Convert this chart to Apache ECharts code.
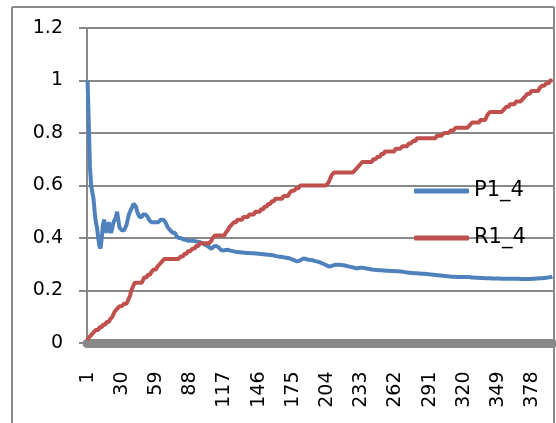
<!DOCTYPE html>
<html><head><meta charset="utf-8">
<script src="https://cdn.jsdelivr.net/npm/echarts@6/dist/echarts.min.js"></script>
<style>html,body{margin:0;padding:0;background:#fff}#c{width:556px;height:423px}</style>
</head><body><div id="c"></div>
<script>
// categories 1..395 (rank positions)
const categories = Array.from({length: 395}, (_, i) => String(i + 1));
const yTicks = [0, 0.2, 0.4, 0.6, 0.8, 1, 1.2];
const seriesNames = ['P1_4', 'R1_4'];

const P1_4 = [
1.00,1.00,0.67,0.60,0.60,0.55,0.50,0.46,0.44,0.40,
0.37,0.36,0.40,0.45,0.47,0.44,0.42,0.44,0.46,0.43,
0.42,0.44,0.46,0.46,0.48,0.50,0.47,0.44,0.44,0.43,
0.43,0.43,0.44,0.45,0.47,0.49,0.50,0.51,0.52,0.53,
0.535,0.52,0.50,0.49,0.48,0.48,0.48,0.49,0.49,0.49,
0.49,0.48,0.47,0.47,0.46,0.46,0.46,0.46,0.46,0.46,
0.46,0.46,0.47,0.47,0.47,0.47,0.46,0.45,0.44,0.44,
0.43,0.43,0.42,0.42,0.42,0.41,0.41,0.40,0.40,0.40,
0.395,0.395,0.395,0.393,0.393,0.39,0.39,0.39,0.39,0.39,
0.39,0.388,0.388,0.386,0.385,0.385,0.383,0.38,0.378,0.376,
0.375,0.372,0.368,0.365,0.36,0.358,0.362,0.368,0.37,0.37,
0.368,0.364,0.358,0.355,0.353,0.352,0.352,0.354,0.355,0.355,
0.354,0.352,0.352,0.35,0.349,0.348,0.347,0.347,0.346,0.346,
0.345,0.345,0.345,0.344,0.344,0.343,0.343,0.343,0.343,0.342,
0.342,0.342,0.341,0.341,0.340,0.340,0.340,0.339,0.339,0.338,
0.338,0.337,0.337,0.336,0.336,0.335,0.335,0.334,0.333,0.332,
0.331,0.330,0.330,0.329,0.328,0.328,0.327,0.326,0.326,0.325,
0.324,0.323,0.321,0.319,0.318,0.316,0.313,0.311,0.310,0.312,
0.314,0.317,0.320,0.322,0.321,0.320,0.318,0.317,0.316,0.316,
0.315,0.315,0.314,0.312,0.311,0.310,0.308,0.307,0.305,0.303,
0.301,0.299,0.297,0.295,0.293,0.291,0.292,0.294,0.296,0.297,
0.298,0.298,0.298,0.298,0.297,0.297,0.296,0.296,0.295,0.294,
0.293,0.292,0.291,0.290,0.289,0.288,0.287,0.285,0.284,0.285,
0.286,0.287,0.288,0.287,0.286,0.285,0.285,0.284,0.283,0.282,
0.281,0.280,0.280,0.279,0.279,0.278,0.278,0.277,0.277,0.277,
0.276,0.276,0.276,0.275,0.275,0.275,0.275,0.274,0.274,0.274,
0.274,0.273,0.273,0.273,0.272,0.272,0.271,0.271,0.270,0.270,
0.269,0.269,0.268,0.268,0.268,0.267,0.267,0.266,0.266,0.266,
0.265,0.265,0.265,0.264,0.264,0.264,0.263,0.263,0.262,0.262,
0.262,0.261,0.261,0.260,0.260,0.259,0.259,0.258,0.258,0.257,
0.257,0.256,0.256,0.255,0.255,0.254,0.253,0.253,0.253,0.252,
0.252,0.252,0.252,0.251,0.251,0.251,0.251,0.251,0.251,0.251,
0.251,0.251,0.251,0.251,0.250,0.250,0.250,0.250,0.250,0.249,
0.249,0.249,0.249,0.248,0.248,0.248,0.248,0.247,0.247,0.247,
0.247,0.247,0.247,0.246,0.246,0.246,0.246,0.246,0.246,0.246,
0.246,0.245,0.245,0.245,0.245,0.245,0.245,0.245,0.245,0.245,
0.245,0.245,0.245,0.245,0.245,0.245,0.244,0.244,0.244,0.244,
0.244,0.244,0.244,0.244,0.244,0.244,0.245,0.245,0.245,0.245,
0.246,0.246,0.246,0.247,0.247,0.247,0.248,0.248,0.249,0.249,
0.250,0.250,0.251,0.251,0.252
];

const R1_4 = [
0.01,0.02,0.02,0.03,0.03,0.04,0.04,0.05,0.05,0.05,
0.06,0.06,0.06,0.07,0.07,0.07,0.08,0.08,0.08,0.09,
0.09,0.10,0.11,0.12,0.12,0.13,0.13,0.14,0.14,0.14,
0.14,0.15,0.15,0.15,0.16,0.17,0.18,0.20,0.21,0.22,
0.23,0.23,0.23,0.23,0.23,0.23,0.23,0.24,0.25,0.25,
0.25,0.26,0.26,0.26,0.27,0.27,0.28,0.28,0.28,0.29,
0.29,0.30,0.30,0.31,0.31,0.32,0.32,0.32,0.32,0.32,
0.32,0.32,0.32,0.32,0.32,0.32,0.32,0.32,0.32,0.33,
0.33,0.33,0.34,0.34,0.34,0.35,0.35,0.35,0.35,0.36,
0.36,0.36,0.37,0.37,0.37,0.38,0.38,0.38,0.38,0.38,
0.38,0.38,0.38,0.38,0.38,0.39,0.40,0.40,0.41,0.41,
0.41,0.41,0.41,0.41,0.41,0.41,0.41,0.42,0.42,0.43,
0.44,0.44,0.45,0.45,0.46,0.46,0.46,0.47,0.47,0.47,
0.47,0.47,0.48,0.48,0.48,0.48,0.48,0.49,0.49,0.49,
0.49,0.49,0.50,0.50,0.50,0.50,0.50,0.51,0.51,0.51,
0.52,0.52,0.52,0.53,0.53,0.53,0.54,0.54,0.54,0.55,
0.55,0.55,0.55,0.55,0.55,0.55,0.56,0.56,0.56,0.56,
0.56,0.57,0.57,0.58,0.58,0.58,0.58,0.59,0.59,0.59,
0.60,0.60,0.60,0.60,0.60,0.60,0.60,0.60,0.60,0.60,
0.60,0.60,0.60,0.60,0.60,0.60,0.60,0.60,0.60,0.60,
0.60,0.60,0.60,0.60,0.61,0.62,0.63,0.64,0.64,0.65,
0.65,0.65,0.65,0.65,0.65,0.65,0.65,0.65,0.65,0.65,
0.65,0.65,0.65,0.65,0.65,0.65,0.65,0.66,0.66,0.67,
0.67,0.68,0.68,0.69,0.69,0.69,0.69,0.69,0.69,0.69,
0.69,0.69,0.70,0.70,0.70,0.70,0.71,0.71,0.71,0.72,
0.72,0.72,0.73,0.73,0.73,0.73,0.73,0.73,0.73,0.73,
0.73,0.74,0.74,0.74,0.74,0.74,0.74,0.75,0.75,0.75,
0.75,0.75,0.76,0.76,0.76,0.76,0.77,0.77,0.77,0.78,
0.78,0.78,0.78,0.78,0.78,0.78,0.78,0.78,0.78,0.78,
0.78,0.78,0.78,0.78,0.78,0.78,0.79,0.79,0.79,0.79,
0.79,0.79,0.80,0.80,0.80,0.80,0.80,0.80,0.81,0.81,
0.81,0.81,0.82,0.82,0.82,0.82,0.82,0.82,0.82,0.82,
0.82,0.82,0.82,0.82,0.83,0.83,0.84,0.84,0.84,0.84,
0.84,0.84,0.84,0.85,0.85,0.85,0.85,0.85,0.86,0.87,
0.87,0.88,0.88,0.88,0.88,0.88,0.88,0.88,0.88,0.88,
0.88,0.88,0.88,0.89,0.89,0.90,0.90,0.90,0.91,0.91,
0.91,0.91,0.91,0.92,0.92,0.92,0.92,0.92,0.92,0.93,
0.93,0.94,0.94,0.95,0.95,0.95,0.96,0.96,0.96,0.96,
0.96,0.96,0.96,0.97,0.97,0.98,0.98,0.98,0.98,0.99,
0.99,0.99,1.00,1.00,1.00
];

const colors = ['#4F81BD', '#C0504D'];
const axisGrey = '#888888';
const font = 'DejaVu Sans';

const chart = echarts.init(document.getElementById('c'), null, {renderer: 'canvas'});
chart.setOption({
  animation: false,
  backgroundColor: '#ffffff',
  graphic: [
    {type: 'line', silent: true, z: 100, shape: {x1: 12, y1: 7, x2: 554, y2: 7}, style: {stroke: '#8a8a8a', lineWidth: 2}},
    {type: 'line', silent: true, z: 100, shape: {x1: 12, y1: 7, x2: 12, y2: 423}, style: {stroke: '#8a8a8a', lineWidth: 2}},
    {type: 'line', silent: true, z: 100, shape: {x1: 554, y1: 7, x2: 554, y2: 423}, style: {stroke: '#8a8a8a', lineWidth: 2}}
  ],
  grid: {left: 87, right: 3, top: 28, bottom: 80},
  legend: {
    orient: 'vertical', left: 409, top: 174, itemGap: 23,
    itemWidth: 55, itemHeight: 5, icon: 'roundRect',
    textStyle: {fontFamily: font, fontSize: 21, color: '#000', lineHeight: 24},
    data: seriesNames
  },
  xAxis: {
    type: 'category', data: categories, boundaryGap: true, offset: 4.5,
    axisLine: {show: true, lineStyle: {color: axisGrey, width: 9}},
    axisTick: {show: false},
    axisLabel: {interval: 28, rotate: 90, margin: 24, fontFamily: font, fontSize: 19, color: '#000'},
    splitLine: {show: false}
  },
  yAxis: {
    type: 'value', min: yTicks[0], max: yTicks[yTicks.length - 1], interval: 0.2,
    axisLine: {show: true, lineStyle: {color: axisGrey, width: 2}},
    axisTick: {show: true, length: 8, lineStyle: {color: axisGrey, width: 2}},
    axisLabel: {margin: 24, fontFamily: font, fontSize: 19, color: '#000'},
    splitLine: {show: true, lineStyle: {color: axisGrey, width: 2}}
  },
  series: [
    {name: seriesNames[0], type: 'line', data: P1_4, showSymbol: false, symbol: 'none',
     lineStyle: {color: colors[0], width: 4}, itemStyle: {color: colors[0]}},
    {name: seriesNames[1], type: 'line', data: R1_4, showSymbol: false, symbol: 'none',
     lineStyle: {color: colors[1], width: 4}, itemStyle: {color: colors[1]}}
  ]
});
</script></body></html>
